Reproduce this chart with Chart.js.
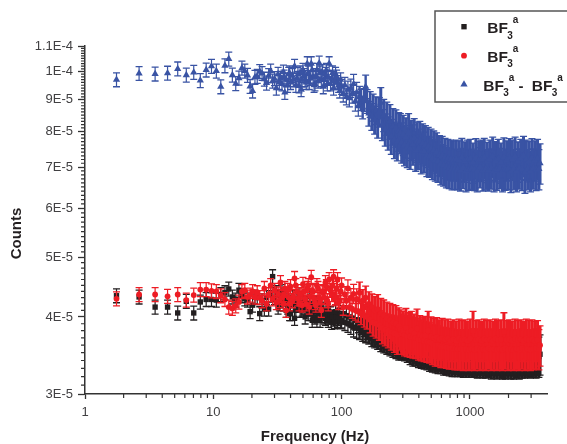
<!DOCTYPE html>
<html>
<head>
<meta charset="utf-8">
<title>Counts vs frequency</title>
<script src="https://cdn.jsdelivr.net/npm/chart.js@4/dist/chart.umd.js"></script>
<style>
  html, body { margin: 0; padding: 0; background: #fff; }
  #wrap { width: 567px; height: 444px; }
</style>
</head>
<body>
<div id="wrap"><canvas id="chart" width="567" height="444"></canvas></div>
<script>
// frequency of each point (Hz)
const freqs = [
  1.76,2.64,3.52,4.4,5.28,6.16,7.04,7.92,8.8,9.68,10.56,11.44,12.32,13.2,14.08,14.96,15.84,16.72,17.6,18.48,19.36,20.24,21.12,
  22,23,24,25,26,27,28,29,30,31,32,33.4,34.3,35.2,36.1,37,38.7,40,41.4,43,44.9,46.6,48.4,50,52,54,56,58,60,62,64.2,66.9,69.5,72,74.8,77.4,80,83.6,86.6,89.8,93,96.7,
  100,103,106,109,112,115,118,121,124,128,131,135,138,142,146,150,154,158,163,167,172,176,181,186,191,197,202,208,213,219,225,231,238,244,251,258,265,272,279,
  287,294,302,309,317,325,333,342,350,359,
  368,378,387,397,407,418,428,439,450,462,
  473,485,498,510,523,537,550,564,579,593,
  608,624,640,656,673,690,708,726,744,763,
  783,803,823,844,865,887,910,933,957,981,
  1006,1032,1058,1085,1113,1141,1170,1200,1231,1262,
  1294,1327,1361,1396,1431,1468,1505,1544,1583,1623,
  1665,1707,1750,1795,1841,1888,1936,1985,2036,2088,
  2141,2195,2251,2309,2368,2428,2490,2553,2618,2685,
  2753,2823,2895,2969,3045,3122,3202,3283,3367,3450,
  3520,
  47.5,51,53,55,57,59,61,63,65.5,68,70.7,73.4,76,78.7,82,85,88,91.4,94.8,98.3,32.7,35.6,38,39.3,42,44,45.7,49.2
];

// counts in units of 1E-5
const blackCounts = [
  4.33,4.31,4.15,4.15,4.06,4.24,4.06,4.23,4.27,4.27,4.26,4.35,4.38,4.44,4.31,4.26,4.42,4.33,4.28,4.26,4.08,4.18,4.31,
  4.3,4.05,4.25,4.12,4.3,4.12,4.35,4.65,4.3,4.38,4.15,4.25,4.4,4.2,4.28,4.1,4.25,4.05,4.3,3.98,4.2,4.35,4.1,4.22,4.0,4.2,4.32,4.05,4.2,4.0,3.95,4.18,4.02,4.12,3.98,4.1,4.0,3.92,3.97,4.08,3.95,4.02,
  3.95,4.05,3.92,4.02,3.9,4.0,3.88,3.98,3.85,3.95,3.84,3.92,3.83,3.9,3.81,3.88,3.8,3.85,3.79,3.84,3.77,3.82,3.76,3.8,3.75,3.79,3.73,3.77,3.72,3.76,3.71,3.74,3.7,3.73,3.69,3.72,3.68,3.7,3.67,
  3.7,3.68,3.72,3.67,3.7,3.65,3.68,3.62,3.66,3.6,
  3.64,3.6,3.63,3.58,3.62,3.57,3.6,3.56,3.58,3.55,
  3.58,3.53,3.56,3.52,3.56,3.51,3.54,3.5,3.53,3.5,
  3.53,3.48,3.52,3.48,3.5,3.47,3.5,3.46,3.5,3.46,
  3.49,3.46,3.5,3.46,3.48,3.45,3.49,3.45,3.48,3.45,
  3.49,3.45,3.48,3.45,3.49,3.44,3.48,3.45,3.48,3.44,
  3.49,3.44,3.47,3.45,3.48,3.43,3.47,3.44,3.48,3.43,
  3.47,3.44,3.48,3.43,3.47,3.43,3.48,3.44,3.47,3.43,
  3.47,3.43,3.48,3.44,3.47,3.43,3.48,3.44,3.47,3.44,
  3.47,3.45,3.48,3.44,3.47,3.45,3.48,3.44,3.48,3.45,
  3.48,
  4.1,4.15,4.2,4.05,4.12,3.95,4.1,4.22,4.05,3.95,4.1,4.0,4.08,3.95,4.05,4.0,3.93,4.0,3.98,3.93,4.2,4.3,4.15,4.05,4.2,4.1,4.25,4.12
];

const redCounts = [
  4.28,4.35,4.35,4.32,4.35,4.26,4.34,4.43,4.43,4.41,4.4,4.33,4.27,4.15,4.13,4.17,4.23,4.4,4.42,4.31,4.34,4.4,4.31,
  4.38,4.3,4.25,4.45,4.2,4.35,4.5,4.28,4.42,4.22,4.36,4.55,4.3,4.2,4.45,4.1,4.3,4.48,4.25,4.62,4.4,4.2,4.35,4.52,4.28,4.45,4.15,4.64,4.4,4.22,4.5,4.3,4.1,4.38,4.55,4.25,4.6,4.35,4.65,4.3,4.6,4.25,
  4.5,4.15,4.35,4.25,4.45,4.15,4.3,4.12,4.36,4.1,4.28,4.08,4.38,4.05,4.25,4.02,4.3,4.0,4.2,3.96,4.15,3.92,4.1,3.9,4.12,3.88,4.05,3.84,4.02,3.82,3.98,3.8,3.95,3.78,3.92,3.76,3.9,3.74,3.86,
  3.82,3.76,3.8,3.74,3.84,3.73,3.78,3.72,3.8,3.71,
  3.76,3.7,3.83,3.68,3.74,3.67,3.72,3.66,3.73,3.65,
  3.8,3.64,3.72,3.62,3.7,3.6,3.71,3.6,3.68,3.58,
  3.7,3.58,3.68,3.57,3.69,3.56,3.66,3.56,3.68,3.55,
  3.66,3.55,3.69,3.55,3.67,3.54,3.68,3.55,3.66,3.54,
  3.69,3.55,3.8,3.54,3.67,3.56,3.68,3.54,3.66,3.55,
  3.69,3.54,3.67,3.56,3.68,3.54,3.66,3.55,3.69,3.54,
  3.67,3.55,3.68,3.54,3.78,3.56,3.67,3.54,3.68,3.55,
  3.66,3.54,3.69,3.55,3.67,3.54,3.68,3.56,3.66,3.54,
  3.69,3.55,3.67,3.54,3.68,3.55,3.66,3.56,3.67,3.55,
  3.6,
  4.35,4.4,4.2,4.5,4.32,4.42,4.28,4.18,4.45,4.25,4.4,4.3,4.48,4.2,4.42,4.5,4.28,4.45,4.22,4.4,4.25,4.35,4.42,4.2,4.32,4.5,4.28,4.18
];

const blueCounts = [
  9.7,9.93,9.91,9.94,10.1,9.87,9.97,9.67,10.06,10.2,10.02,9.45,10.22,10.48,9.87,9.56,9.76,10.13,10.02,9.86,9.46,9.3,9.79,
  9.82,10.0,9.93,9.72,9.58,9.85,10.02,9.65,9.74,9.4,9.9,9.75,9.55,9.98,9.25,9.7,9.9,9.6,9.85,10.2,9.75,9.48,9.35,10.05,9.7,10.3,9.6,10.3,9.8,9.55,10.05,10.32,9.7,9.45,9.9,9.55,10.3,9.75,9.4,9.9,9.6,9.3,
  9.45,9.2,9.5,9.1,9.35,9.05,9.4,9.2,9.55,8.95,9.25,8.8,9.1,9.0,8.75,9.0,9.45,8.95,8.55,8.85,8.45,8.75,8.35,8.65,8.25,8.6,8.9,8.2,8.5,8.05,8.4,7.95,8.3,7.85,8.15,7.75,8.1,7.7,8.0,
  7.95,7.68,7.9,7.6,7.82,7.55,7.95,7.5,7.75,7.62,
  7.8,7.45,7.7,7.5,7.72,7.38,7.65,7.42,7.6,7.3,
  7.55,7.28,7.5,7.22,7.45,7.18,7.4,7.15,7.32,7.08,
  7.3,7.05,7.25,7.0,7.22,6.98,7.2,6.95,7.18,6.96,
  7.2,6.95,7.18,6.92,7.25,6.98,7.15,6.9,7.2,6.94,
  7.22,6.96,7.12,6.93,7.24,6.9,7.17,7.0,7.2,6.92,
  7.25,6.95,7.14,6.92,7.2,6.97,7.28,6.9,7.16,6.94,
  7.22,6.98,7.12,6.9,7.26,6.94,7.18,6.96,7.24,6.88,
  7.2,6.95,7.28,6.9,7.15,6.97,7.22,6.93,7.3,6.86,
  7.2,6.95,7.16,6.9,7.24,6.97,7.18,6.93,7.22,6.95,
  7.1,
  9.95,9.85,9.6,9.95,9.75,10.05,9.5,9.85,9.65,9.95,10.0,9.7,10.05,9.8,9.55,9.95,9.65,9.8,9.5,9.7,9.6,9.8,9.5,9.95,9.7,9.5,9.9,9.7
];

// relative half length of the error bar at each frequency
const relErr = [
  .026,.026,.026,.026,.026,.026,.026,.026,.026,.026,.026,.026,.026,.026,.026,.026,.026,.026,.026,.026,.026,.026,.026,
  .026,.026,.026,.026,.026,.026,.026,.026,.026,.026,.026,.026,.026,.026,.026,.026,.026,.026,.026,.026,.026,.026,.026,.026,.026,.026,.026,.026,.026,.026,.026,.026,.026,.026,.026,.026,.026,.026,.026,.026,.026,.026,
  .028,.03,.03,.03,.032,.032,.034,.034,.036,.036,.038,.038,.04,.04,.042,.042,.044,.044,.046,.048,.05,.05,.052,.052,.055,.055,.058,.058,.06,.06,.062,.062,.065,.065,.068,.068,.07,.07,.072,
  .075,.075,.075,.075,.075,.075,.075,.075,.075,.075,
  .075,.075,.075,.075,.075,.075,.075,.075,.075,.075,
  .075,.075,.075,.075,.075,.075,.075,.075,.075,.075,
  .075,.075,.075,.075,.075,.075,.075,.075,.075,.075,
  .075,.075,.075,.075,.075,.075,.075,.075,.075,.075,
  .075,.075,.075,.075,.075,.075,.075,.075,.075,.075,
  .075,.075,.075,.075,.075,.075,.075,.075,.075,.075,
  .075,.075,.075,.075,.075,.075,.075,.075,.075,.075,
  .075,.075,.075,.075,.075,.075,.075,.075,.075,.075,
  .075,.075,.075,.075,.075,.075,.075,.075,.075,.075,
  .075,
  .026,.026,.026,.026,.026,.026,.026,.026,.026,.026,.026,.026,.026,.026,.026,.026,.026,.026,.026,.026,.026,.026,.026,.026,.026,.026,.026,.026
];

const xMajor = [1, 10, 100, 1000];
const xMinor = [2,3,4,5,6,7,8,9,20,30,40,50,60,70,80,90,200,300,400,500,600,700,800,900,2000,3000];
const yMajor = [3,4,5,6,7,8,9,10,11];
const yLabels = ['3E-5','4E-5','5E-5','6E-5','7E-5','8E-5','9E-5','1E-4','1.1E-4'];
const yMinorStep = [.1,.2,.3,.4,.5,.6,.7,.8,.9];

const BLACK = '#231f20', RED = '#ed1c24', BLUE = '#3953a4', AXIS = '#333333', FONT = '"Liberation Sans", Arial, sans-serif';

function points(values) {
  return freqs.map((f, i) => ({ x: f, y: values[i] * 1e-5 }));
}

// vertical bars + caps, drawn just under each dataset's markers
const errorBars = {
  id: 'errorBars',
  beforeDatasetDraw(chart, args) {
    const ds = chart.data.datasets[args.index];
    const { x, y } = chart.scales;
    const ctx = chart.ctx;
    ctx.save();
    ctx.strokeStyle = ds.backgroundColor;
    ds.data.forEach((p, i) => {
      const px = x.getPixelForValue(p.x);
      const top = y.getPixelForValue(p.y * (1 + relErr[i]));
      const bot = y.getPixelForValue(p.y * (1 - relErr[i]));
      // the dense part has to close up into a solid band
      ctx.lineWidth = relErr[i] >= .05 ? 3 : (relErr[i] >= .04 ? 2.4 : 1.2);
      ctx.beginPath();
      ctx.moveTo(px, top); ctx.lineTo(px, bot);
      ctx.stroke();
      ctx.lineWidth = 1.3;
      ctx.beginPath();
      ctx.moveTo(px - 3.5, top); ctx.lineTo(px + 3.5, top);
      ctx.moveTo(px - 3.5, bot); ctx.lineTo(px + 3.5, bot);
      ctx.stroke();
    });
    ctx.restore();
  }
};

// short ticks between the labelled ones
const minorTicks = {
  id: 'minorTicks',
  afterDraw(chart) {
    const { x, y } = chart.scales;
    const area = chart.chartArea;
    const ctx = chart.ctx;
    ctx.save();
    ctx.strokeStyle = AXIS;
    ctx.lineWidth = 1.2;
    ctx.beginPath();
    xMinor.forEach(v => {
      const px = x.getPixelForValue(v);
      ctx.moveTo(px, area.bottom); ctx.lineTo(px, area.bottom + 4);
    });
    yMajor.slice(0, -1).forEach(m => {
      yMinorStep.forEach(s => {
        const py = y.getPixelForValue((m + s) * 1e-5);
        ctx.moveTo(area.left, py); ctx.lineTo(area.left - 4, py);
      });
    });
    ctx.stroke();
    ctx.restore();
  }
};

function bf(ctx, x, baseline) {
  ctx.font = 'bold 15.5px ' + FONT;
  ctx.fillText('BF', x, baseline);
  ctx.font = 'bold 10px ' + FONT;
  ctx.fillText('3', x + 20, baseline + 5.5);
  ctx.fillText('a', x + 25.5, baseline - 10);
}

// axis titles and the boxed legend (sub/superscripts, so not the built in one)
const annotations = {
  id: 'annotations',
  afterDraw(chart) {
    const ctx = chart.ctx;
    ctx.save();
    ctx.fillStyle = BLACK;
    ctx.font = 'bold 15px ' + FONT;
    ctx.textAlign = 'center';
    ctx.textBaseline = 'middle';
    ctx.fillText('Frequency (Hz)', 315, 437);
    ctx.translate(17, 233.5);
    ctx.rotate(-Math.PI / 2);
    ctx.fillText('Counts', 0, 0);
    ctx.restore();

    ctx.save();
    ctx.fillStyle = '#fff';
    ctx.fillRect(435, 11, 140, 91);
    ctx.strokeStyle = '#555';
    ctx.lineWidth = 1.5;
    ctx.strokeRect(435, 11, 140, 91);
    ctx.textAlign = 'left';
    ctx.textBaseline = 'alphabetic';

    ctx.fillStyle = BLACK;
    Chart.helpers.drawPoint(ctx, { pointStyle: 'rect', radius: 3.8, borderWidth: 0, rotation: 0 }, 464, 26.7);
    ctx.fillStyle = RED;
    Chart.helpers.drawPoint(ctx, { pointStyle: 'circle', radius: 2.9, borderWidth: 0, rotation: 0 }, 464, 55.7);
    ctx.fillStyle = BLUE;
    Chart.helpers.drawPoint(ctx, { pointStyle: 'triangle', radius: 4.2, borderWidth: 0, rotation: 0 }, 464, 84.5);

    ctx.fillStyle = BLACK;
    bf(ctx, 487.3, 33);
    bf(ctx, 487.3, 61.5);
    bf(ctx, 483.3, 90.7);
    ctx.font = 'bold 15px ' + FONT;
    ctx.fillText('-', 518.5, 90.7);
    bf(ctx, 531.7, 90.7);
    ctx.restore();
  }
};

function makeDataset(label, values, color, style, radius, order) {
  return {
    label: label,
    data: points(values),
    backgroundColor: color,
    borderColor: color,
    borderWidth: 0,
    showLine: false,
    pointStyle: style,
    pointRadius: radius,
    pointHoverRadius: radius,
    pointBorderWidth: 0,
    clip: false,
    order: order
  };
}

new Chart(document.getElementById('chart').getContext('2d'), {
  type: 'scatter',
  data: {
    datasets: [
      makeDataset('BF3a', blackCounts, BLACK, 'rect', 3.8, 3),
      makeDataset('BF3a', redCounts, RED, 'circle', 2.9, 2),
      makeDataset('BF3a - BF3a', blueCounts, BLUE, 'triangle', 4.2, 1)
    ]
  },
  options: {
    responsive: false,
    animation: false,
    layout: { padding: { left: 0, top: 46, right: 20, bottom: 0 } },
    plugins: { legend: { display: false }, tooltip: { enabled: false } },
    scales: {
      x: {
        type: 'logarithmic',
        min: 1,
        max: 3990,
        afterFit: s => { s.height = 50; },
        afterBuildTicks: s => { s.ticks = xMajor.map(v => ({ value: v, major: true })); },
        border: { color: AXIS, width: 1.5 },
        grid: { drawOnChartArea: false, color: AXIS, tickLength: 5, tickWidth: 1.3 },
        ticks: {
          autoSkip: false, maxRotation: 0, padding: 6, color: '#414042',
          font: { family: FONT, size: 13 },
          callback: v => String(v)
        }
      },
      y: {
        type: 'logarithmic',
        min: 3e-5,
        max: 1.1e-4,
        afterFit: s => { s.width = 85; },
        afterBuildTicks: s => { s.ticks = yMajor.map(v => ({ value: v * 1e-5, major: true })); },
        border: { color: AXIS, width: 1.5 },
        grid: { drawOnChartArea: false, color: AXIS, tickLength: 7, tickWidth: 1.3 },
        ticks: {
          autoSkip: false, padding: 5, color: '#414042',
          font: { family: FONT, size: 13 },
          callback: (v, i) => yLabels[i]
        }
      }
    }
  },
  plugins: [errorBars, minorTicks, annotations]
});
</script>
</body>
</html>
